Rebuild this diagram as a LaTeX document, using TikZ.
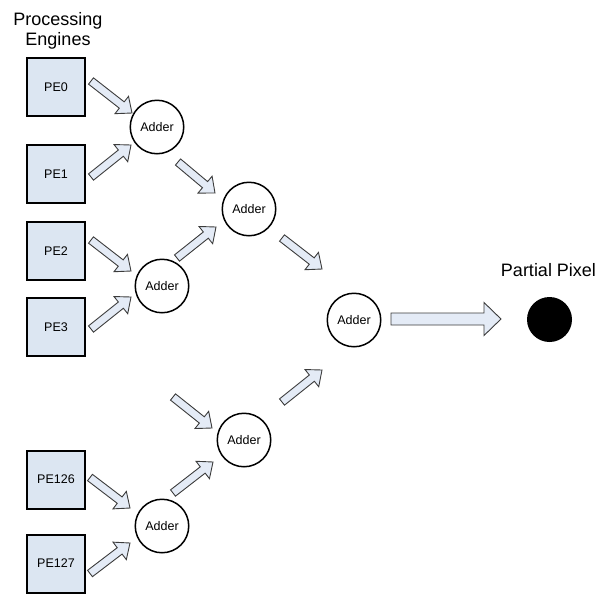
\documentclass[tikz,border=0pt]{standalone}
\usepackage{fontspec}
\setmainfont{Liberation Sans}
\usetikzlibrary{calc}

\definecolor{pefill}{RGB}{220,230,242}
\definecolor{arrowfill}{RGB}{228,235,246}
\definecolor{arrowline}{RGB}{60,60,60}

% block arrow from #1 to #2: half shaft width #3, half head width #4, head length #5
\newcommand\blockarrow[5]{%
  \coordinate (ba) at ($(#2)!#5!(#1)$);
  \draw[arrowbody] ($(#1)!#3!90:(#2)$) -- ($(ba)!#3!-90:(#1)$) -- ($(ba)!#4!-90:(#1)$)
    -- (#2) -- ($(ba)!#4!90:(#1)$) -- ($(ba)!#3!90:(#1)$) -- ($(#1)!#3!-90:(#2)$) -- cycle;
}

\begin{document}
\begin{tikzpicture}[x=1pt,y=-1pt,
  pebox/.style={draw=black,line width=2pt,fill=pefill,minimum size=58pt,inner sep=0pt,
    font=\fontsize{12.5}{15}\selectfont},
  adder/.style={circle,draw=black,line width=1.5pt,fill=white,minimum size=53.5pt,inner sep=0pt,
    font=\fontsize{12.5}{15}\selectfont},
  arrowbody/.style={draw=arrowline,line width=0.9pt,fill=arrowfill,line join=miter},
  title/.style={inner sep=0pt,font=\fontsize{18}{20}\selectfont,align=center}]
\useasboundingbox (0,0) rectangle (599,595);

% processing engines
\node[title,anchor=north] (pehead) at (58,12) {Processing\\Engines};
\node[pebox] (pe0)   at (56,87)    {PE0};
\node[pebox] (pe1)   at (56,174)   {PE1};
\node[pebox] (pe2)   at (56,251)   {PE2};
\node[pebox] (pe3)   at (56,327)   {PE3};
\node[pebox] (pe126) at (56,479.5) {PE126};
\node[pebox] (pe127) at (56,563.5) {PE127};

% adder tree
\node[adder] (a1) at (157,127) {Adder};
\node[adder] (a2) at (162,286) {Adder};
\node[adder] (a3) at (249,209) {Adder};
\node[adder] (a4) at (244,440) {Adder};
\node[adder] (a5) at (162,526) {Adder};
\node[adder] (af) at (354,320) {Adder};

% result
\node[circle,fill=black,minimum size=45pt,inner sep=0pt] (pix) at (549.5,319.5) {};
\node[title,anchor=base] (pixlabel) at (548.5,276) {Partial Pixel};

% arrow ends
\coordinate (t1) at ([shift={(35,-6)}]pe0.center);
\coordinate (h1) at ([shift={(-25,-14)}]a1.center);
\coordinate (t2) at ([shift={(35,3)}]pe1.center);
\coordinate (h2) at ([shift={(-26,18)}]a1.center);
\coordinate (t3) at ([shift={(21,35)}]a1.center);
\coordinate (h3) at ([shift={(-34,-16)}]a3.center);
\coordinate (t4) at ([shift={(35,-11)}]pe2.center);
\coordinate (h4) at ([shift={(-31,-15)}]a2.center);
\coordinate (t5) at ([shift={(35,2)}]pe3.center);
\coordinate (h5) at ([shift={(-31,11)}]a2.center);
\coordinate (t6) at ([shift={(15,-28)}]a2.center);
\coordinate (h6) at ([shift={(-33,18)}]a3.center);
\coordinate (t7) at ([shift={(33,29)}]a3.center);
\coordinate (h7) at ([shift={(-32,-51)}]af.center);
\coordinate (t8) at ([shift={(-71,-43)}]a4.center);
\coordinate (h8) at ([shift={(-32,-12)}]a4.center);
\coordinate (t9) at ([shift={(11,-33)}]a5.center);
\coordinate (h9) at ([shift={(-31,22)}]a4.center);
\coordinate (t10) at ([shift={(38,-38)}]a4.center);
\coordinate (h10) at ([shift={(-32,50)}]af.center);
\coordinate (t11) at ([shift={(34,-2)}]pe126.center);
\coordinate (h11) at ([shift={(-32,-18)}]a5.center);
\coordinate (t12) at ([shift={(34,10)}]pe127.center);
\coordinate (h12) at ([shift={(-32,17)}]a5.center);
\coordinate (t13) at ([shift={(37,-1)}]af.center);
\coordinate (h13) at ([shift={(-48.5,-0.5)}]pix.center);

% connectors
\blockarrow{t1}{h1}{4pt}{11pt}{13pt}
\blockarrow{t2}{h2}{4pt}{11pt}{13pt}
\blockarrow{t3}{h3}{4pt}{11pt}{13pt}
\blockarrow{t4}{h4}{4pt}{11pt}{13pt}
\blockarrow{t5}{h5}{4pt}{11pt}{13pt}
\blockarrow{t6}{h6}{4pt}{11pt}{13pt}
\blockarrow{t7}{h7}{4pt}{11pt}{13pt}
\blockarrow{t8}{h8}{4pt}{11pt}{13pt}
\blockarrow{t9}{h9}{4pt}{11pt}{13pt}
\blockarrow{t10}{h10}{4pt}{11pt}{13pt}
\blockarrow{t11}{h11}{4pt}{11pt}{13pt}
\blockarrow{t12}{h12}{4pt}{11pt}{13pt}
\blockarrow{t13}{h13}{6pt}{16.5pt}{17pt}
\end{tikzpicture}
\end{document}
